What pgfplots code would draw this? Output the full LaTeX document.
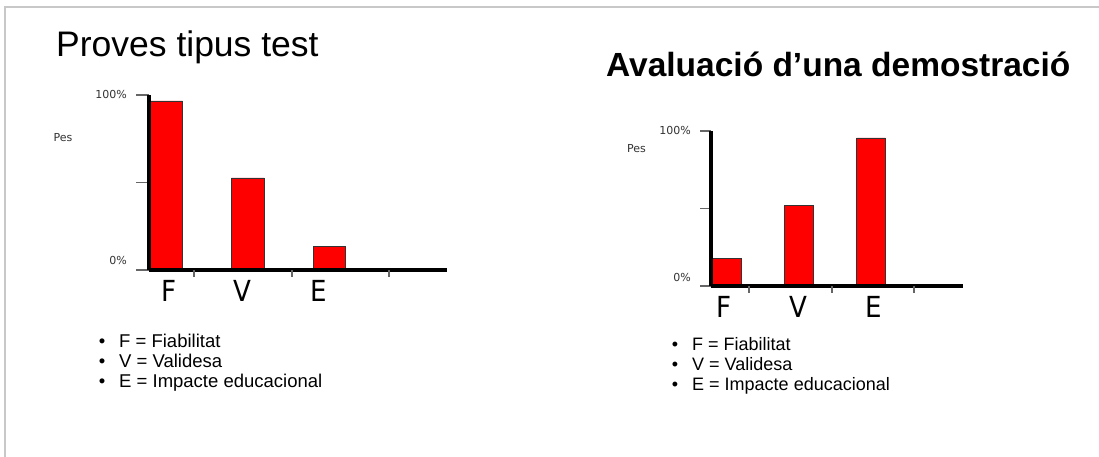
\documentclass[border=0pt]{standalone}
\usepackage{fontspec}
\setmainfont{Liberation Sans}
\newfontfamily\dejavu{DejaVu Sans}
\newfontfamily\cond{DejaVu Sans Condensed}
\usepackage{pgfplots}
\pgfplotsset{compat=1.18}
\definecolor{barred}{HTML}{FF0000}
\definecolor{framegray}{HTML}{C8C8C8}
\definecolor{tickgray}{HTML}{666666}
\definecolor{labgray}{HTML}{333333}
\pgfplotsset{slidebar/.style={
  scale only axis,
  axis on top,
  axis x line=bottom, axis y line=left,
  axis line style={line width=3.2pt,-,black},
  ymin=0, ymax=100,
  ytick={0,50,100},
  yticklabels={{},{},100\%},
  tick align=outside,
  ytick style={draw=tickgray, line width=1.2pt},
  yticklabel style={font=\dejavu\fontsize{11}{13}\selectfont, text=labgray, inner sep=0pt, anchor=east, xshift=-9pt},
  extra y tick style={ytick style={draw=none}},
  extra y tick labels={0\%},
  xtick style={draw=none},
  xticklabels={F,V,E},
  xticklabel style={font=\cond\fontsize{29}{32}\selectfont, inner sep=0pt, anchor=north},
  extra x tick style={xtick style={draw=tickgray, line width=1.2pt}, major tick length=7pt},
  extra x tick labels={},
  ybar, bar width=0.40,
  clip=false,
}}
\begin{document}
\begin{tikzpicture}[x=1pt,y=1pt]
\useasboundingbox (0,0) rectangle (1099,457);
\fill[white] (0,0) rectangle (1099,457);
\draw[framegray, line width=2pt] (5,0) -- (5,450) -- (1099,450);
% Left panel
\node[anchor=base west, inner sep=0pt, font=\fontsize{35.5}{40}\selectfont] at (56,400) {Proves tipus test};
\node[inner sep=0pt, font=\dejavu\fontsize{11}{13}\selectfont, text=labgray] at (63,319) {Pes};
\begin{axis}[slidebar, at={(149pt,187pt)}, anchor=south west,
  width=298pt, height=175pt, xmin=-0.208, xmax=3.437,
  major tick length=13pt,
  xticklabel style={yshift=2.5pt},
  xtick={0.037,0.936,1.865},
  extra x ticks={0.343,1.541,2.728},
  extra y ticks={5.7}]
\addplot[fill=barred, draw=labgray, line width=0.8pt] coordinates {(0,96.6) (1,52.6) (2,13.7)};
\end{axis}
\foreach \t/\y in {F = Fiabilitat/109, V = Validesa/89, E = Impacte educacional/69}{
  \node[anchor=base west, inner sep=0pt, font=\fontsize{18.5}{20}\selectfont] at (119,\y) {\t};
  \node[anchor=base, inner sep=0pt, font=\fontsize{18.5}{20}\selectfont] at (102,\y) {\textbullet};
}
% Right panel
\node[anchor=base west, inner sep=0pt, font=\bfseries\fontsize{33.5}{40}\selectfont] at (606,380) {Avaluació d’una demostració};
\node[inner sep=0pt, font=\dejavu\fontsize{11}{13}\selectfont, text=labgray] at (636.5,308) {Pes};
\begin{axis}[slidebar, at={(711pt,171pt)}, anchor=south west,
  width=252pt, height=155pt, xmin=-0.2145, xmax=3.273,
  major tick length=11pt,
  xticklabel style={yshift=0.5pt},
  xtick={-0.028,0.997,2.035},
  extra x ticks={0.311,1.460,2.595},
  extra y ticks={5.8}]
\addplot[fill=barred, draw=labgray, line width=0.8pt] coordinates {(0,18) (1,52) (2,95.5)};
\end{axis}
\foreach \t/\y in {F = Fiabilitat/106, V = Validesa/86, E = Impacte educacional/66}{
  \node[anchor=base west, inner sep=0pt, font=\fontsize{18}{20}\selectfont] at (692,\y) {\t};
  \node[anchor=base, inner sep=0pt, font=\fontsize{18}{20}\selectfont] at (675,\y) {\textbullet};
}
\end{tikzpicture}
\end{document}
